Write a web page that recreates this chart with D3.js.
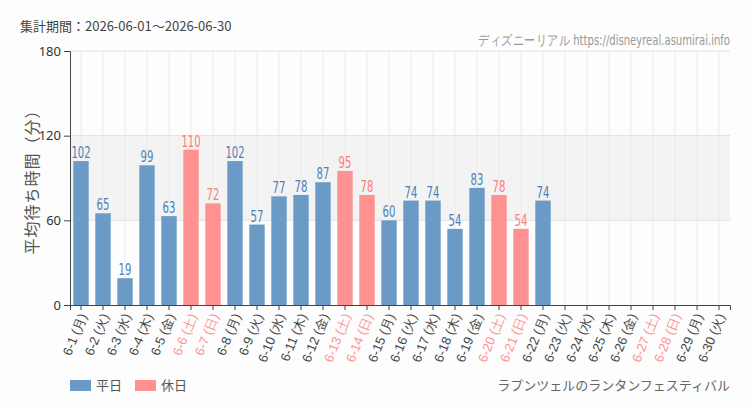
<!DOCTYPE html>
<html>
<head>
<meta charset="utf-8">
<script src="https://cdn.jsdelivr.net/npm/d3@7"></script>
<style>
  body { margin: 0; background: #fcfdfc; }
  svg { display: block; font-family: "Noto Sans CJK JP", "Noto Sans", sans-serif; }
  .narrow { font-family: "DejaVu Sans Condensed", "DejaVu Sans", sans-serif; }
</style>
</head>
<body>
<div id="chart"></div>
<script>
// data
var days = ["6-1","6-2","6-3","6-4","6-5","6-6","6-7","6-8","6-9","6-10","6-11","6-12","6-13","6-14","6-15",
            "6-16","6-17","6-18","6-19","6-20","6-21","6-22","6-23","6-24","6-25","6-26","6-27","6-28","6-29","6-30"];
var weekdays = ["月","火","水","木","金","土","日"];
var waits = [102,65,19,99,63,110,72,102,57,77,78,87,95,78,60,74,74,54,83,78,54,74,
             null,null,null,null,null,null,null,null];
var holidays = ["6-6","6-7","6-13","6-14","6-20","6-21","6-27","6-28"];
var yTicks = [0, 60, 120, 180];

var blue = "#6b9ac6", blueText = "#4d80b8";
var pink = "#ff9191", pinkText = "#ff7b7b";

var svgWidth = 750, svgHeight = 410;
var margin = { top: 51, right: 20, bottom: 105, left: 70 };
var chartWidth = svgWidth - margin.left - margin.right;
var chartHeight = svgHeight - margin.top - margin.bottom;

var svg = d3.select("#chart").append("svg")
    .attr("width", svgWidth)
    .attr("height", svgHeight);

var chartGroup = svg.append("g")
    .attr("transform", `translate(${margin.left}, ${margin.top})`);

var x = d3.scaleBand().domain(days).range([0, chartWidth]).paddingInner(0.3).paddingOuter(0.15);
var xc = d => x(d) + x.bandwidth() / 2;
var y = d3.scaleLinear().domain([0, 180]).range([chartHeight, 0]);

function isHoliday(d) { return holidays.indexOf(d) >= 0; }

// shaded band 60-120
chartGroup.append("rect")
    .attr("x", 0).attr("width", chartWidth)
    .attr("y", y(120)).attr("height", y(60) - y(120))
    .attr("fill", "#f2f3f2");

// grid lines
chartGroup.selectAll(".vgrid").data(days).enter().append("line")
    .attr("x1", d => xc(d)).attr("x2", d => xc(d))
    .attr("y1", 0).attr("y2", chartHeight)
    .attr("stroke", "#ebebeb");
chartGroup.selectAll(".hgrid").data(yTicks.slice(1)).enter().append("line")
    .attr("x1", 0).attr("x2", chartWidth)
    .attr("y1", d => y(d)).attr("y2", d => y(d))
    .attr("stroke", "#e2e2e2");

// bars
var barData = days.map((d, i) => ({ day: d, v: waits[i] })).filter(d => d.v != null);
chartGroup.selectAll(".bar").data(barData).enter().append("rect")
    .attr("x", d => x(d.day))
    .attr("width", x.bandwidth())
    .attr("y", d => y(d.v))
    .attr("height", d => chartHeight - y(d.v))
    .attr("fill", d => isHoliday(d.day) ? pink : blue);

// value labels, squeezed sideways to look condensed
chartGroup.selectAll(".val").data(barData).enter().append("text")
    .attr("class", "narrow")
    .attr("transform", d => `translate(${xc(d.day)}, ${y(d.v) - 3}) scale(0.7, 1)`)
    .attr("text-anchor", "middle")
    .style("font-size", "16px")
    .attr("fill", d => isHoliday(d.day) ? pinkText : blueText)
    .text(d => d.v);

// axes
var leftAxis = d3.axisLeft(y).tickValues(yTicks).tickSizeOuter(0).tickSize(6);
var gy = chartGroup.append("g").call(leftAxis);
gy.selectAll("text").style("font-size", "13px").attr("fill", "#333").attr("font-family", "'Noto Sans', sans-serif");
gy.selectAll("line, path").attr("stroke", "#444");

var bottomAxis = d3.axisBottom(x).tickSizeOuter(0).tickSize(5)
    .tickFormat((d, i) => `${d} (${weekdays[i % 7]})`);
var gx = chartGroup.append("g")
    .attr("transform", `translate(0, ${chartHeight})`)
    .call(bottomAxis);
gx.select("path").attr("stroke", "#444");
gx.selectAll("line").attr("stroke", "#444");
gx.selectAll("text")
    .style("font-size", "13px")
    .attr("fill", d => isHoliday(d) ? pink : "#444")
    .attr("text-anchor", "end")
    .attr("dy", "0.35em")
    .attr("transform", "translate(2,9) rotate(-68)")
    .attr("x", 0).attr("y", 0);

// y axis title
svg.append("text")
    .attr("transform", "translate(38, 178) rotate(-90)")
    .attr("text-anchor", "middle")
    .style("font-size", "16px")
    .style("letter-spacing", "1px")
    .attr("fill", "#555")
    .text("平均待ち時間（分）");

// header
svg.append("text")
    .attr("x", 20).attr("y", 31)
    .style("font-size", "13px")
    .attr("fill", "#444")
    .text("集計期間：2026-06-01～2026-06-30");

svg.append("text")
    .attr("class", "narrow")
    .attr("transform", "translate(730, 45) scale(0.8, 1)")
    .attr("text-anchor", "end")
    .style("font-size", "14px")
    .attr("fill", "#999")
    .text("ディズニーリアル https://disneyreal.asumirai.info");

// legend
var legendItems = [{ label: "平日", color: blue }, { label: "休日", color: pink }];
var legend = svg.selectAll(".legend").data(legendItems).enter().append("g")
    .attr("transform", (d, i) => `translate(${70 + i * 65}, 380)`);
legend.append("rect").attr("width", 21).attr("height", 11).attr("fill", d => d.color);
legend.append("text").attr("x", 26).attr("y", 10)
    .style("font-size", "13px").attr("fill", "#555")
    .text(d => d.label);

svg.append("text")
    .attr("x", 730).attr("y", 390)
    .attr("text-anchor", "end")
    .style("font-size", "13px")
    .attr("fill", "#666")
    .text("ラプンツェルのランタンフェスティバル");
</script>
</body>
</html>
